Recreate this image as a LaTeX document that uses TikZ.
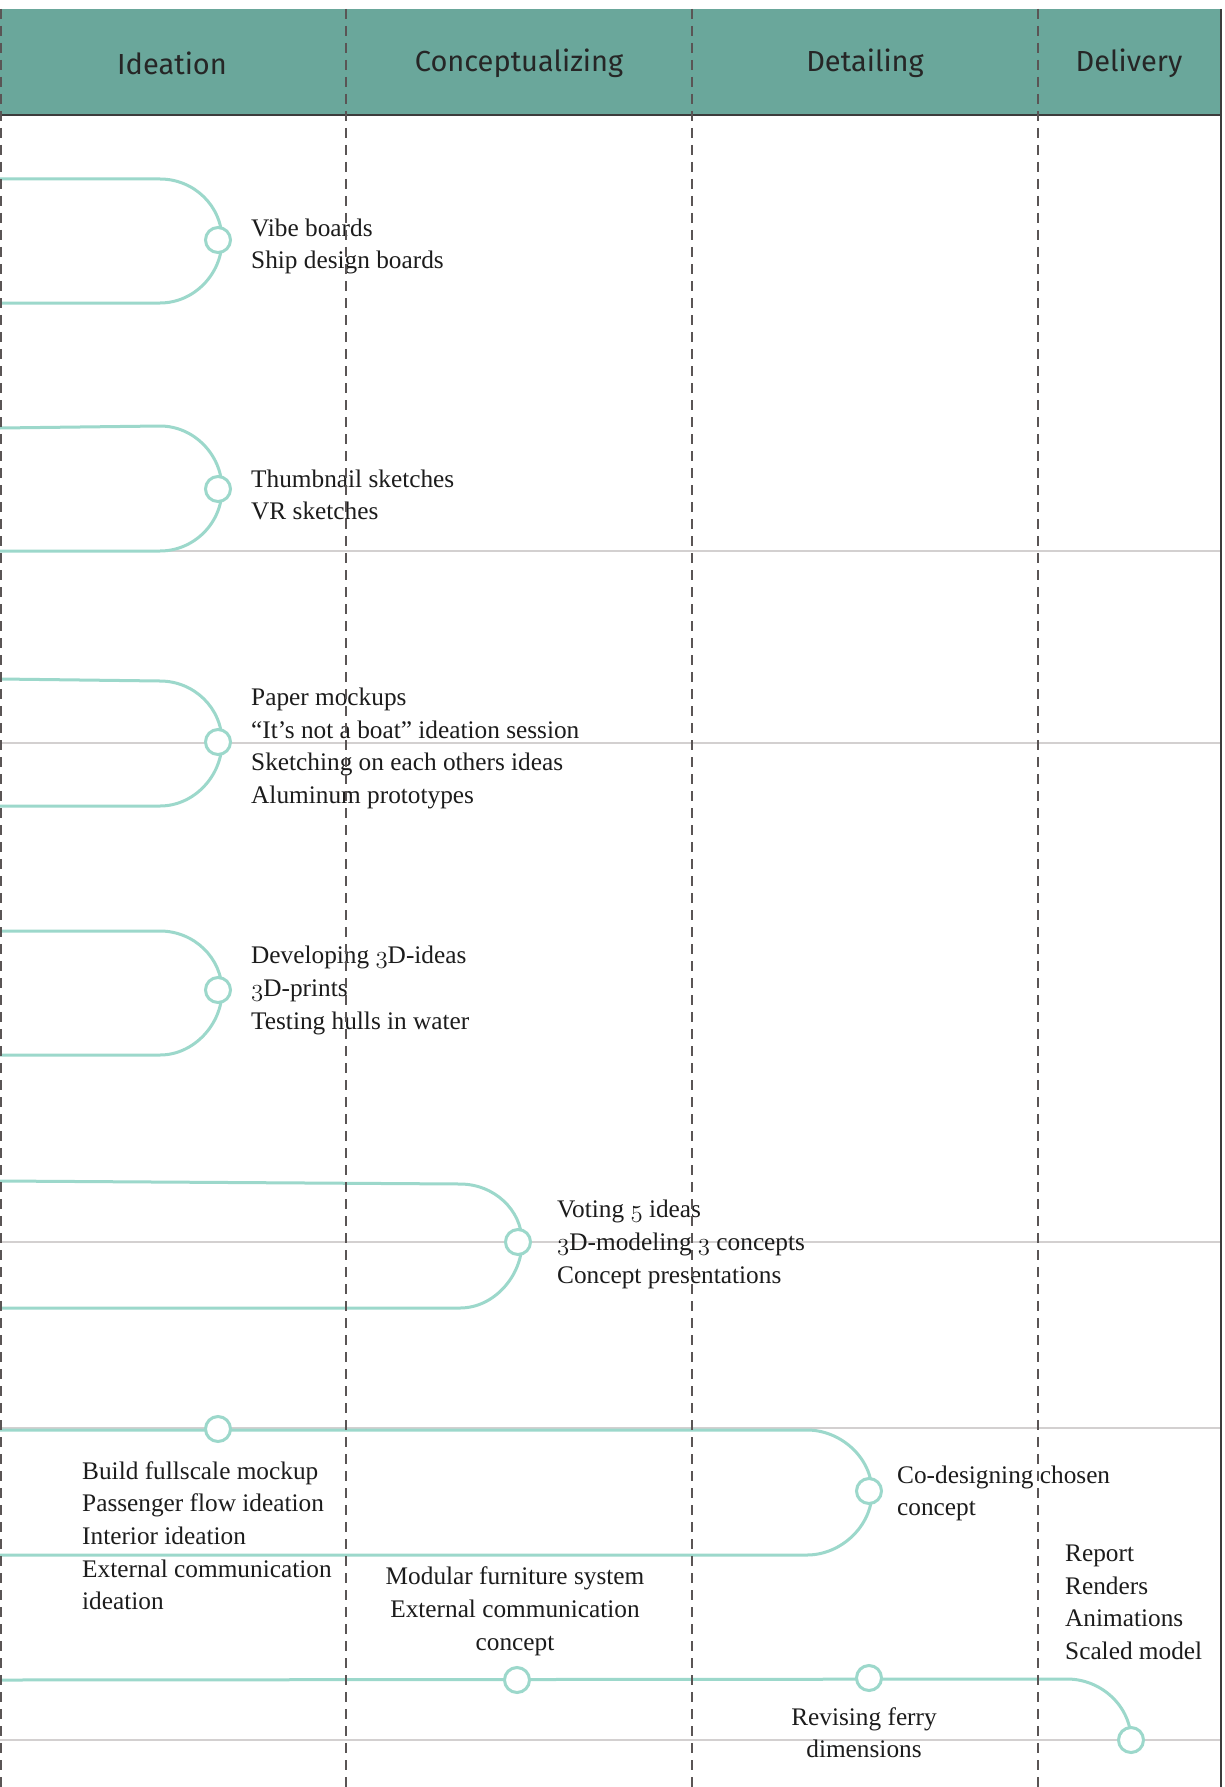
\documentclass[tikz,border=0pt]{standalone}
\usepackage{fontspec}
\setmainfont{Liberation Serif}
\newfontfamily\hfont{Fira Sans}
\newcommand\osn[1]{{\usefont{OML}{cmm}{m}{it}#1}}
\definecolor{hdr}{HTML}{6AA79B}
\definecolor{tl}{HTML}{9CD8CB}
\definecolor{dsh}{HTML}{5A5555}
\definecolor{gl}{HTML}{D3D0D0}
\definecolor{txt}{HTML}{1C1C1C}
\definecolor{hdtxt}{HTML}{262626}
\tikzset{
  flow/.style={draw=tl, line width=3pt},
  dot/.style={circle, draw=tl, line width=3pt, fill=white, minimum size=25pt, inner sep=0pt},
  item/.style={font=\fontsize{25.3}{32.6}\selectfont, align=left, text=txt, inner sep=0pt, anchor=west},
  itemc/.style={item, align=center, anchor=center},
  grayline/.style={draw=gl, line width=2pt},
  divider/.style={draw=dsh, line width=1.8pt, dash pattern=on 10pt off 7pt},
  headlabel/.style={font=\hfont\fontsize{29}{34}\selectfont, text=hdtxt, inner sep=0pt}
}
\begin{document}
\begin{tikzpicture}[x=1pt,y=-1pt]
\useasboundingbox (0,0) rectangle (1225,1787);
\fill[white] (0,0) rectangle (1225,1787);
% gray horizontal lines
\foreach \yy in {551,743,1242,1428,1740} {\draw[grayline] (0,\yy) -- (1221,\yy);}
% header
\fill[hdr] (0,9) rectangle (1221,115);
\draw[draw=hdtxt!90, line width=2.5pt] (0,115) -- (1221,115);
% flow group 1
\draw[flow] (0,179) -- (160,179) .. controls (194,179) and (222,206) .. (222,240)
  .. controls (222,274) and (194,303) .. (160,303) -- (0,303);
% group 2
\draw[flow] (0,428) -- (160,426) .. controls (194,426) and (222,455) .. (222,489)
  .. controls (222,523) and (194,551) .. (160,551) -- (0,551);
% group 3
\draw[flow] (0,679) -- (160,681) .. controls (194,681) and (222,708) .. (222,742)
  .. controls (222,776) and (194,806) .. (160,806) -- (0,806);
% group 4
\draw[flow] (0,931) -- (160,931) .. controls (194,931) and (222,958) .. (222,991)
  .. controls (222,1024) and (194,1055) .. (160,1055) -- (0,1055);
% group 5
\draw[flow] (0,1181) -- (460,1184) .. controls (494,1184) and (522,1210) .. (522,1242)
  .. controls (522,1276) and (494,1308) .. (460,1308) -- (0,1308);
% group 6
\draw[flow] (0,1430) -- (807,1430) .. controls (841,1430) and (872,1458) .. (872,1492)
  .. controls (872,1526) and (841,1555) .. (807,1555) -- (0,1555);
% group 7
\coordinate (s7) at (0,1680);
\draw[flow] (s7) -- (1067,1679) .. controls (1102,1679) and (1131,1707) .. (1131,1740);
% dots
\node[dot] (c1) at (218,240) {};
\node[dot] (c2) at (218,489) {};
\node[dot] (c3) at (218,742) {};
\node[dot] (c4) at (218,990) {};
\node[dot] (c5) at (518,1242) {};
\node[dot] (c6t) at (218,1429) {};
\node[dot] (c6) at (869,1491) {};
\node[dot] (c7a) at (517,1680) {};
\node[dot] (c7b) at (869,1678) {};
\node[dot] (c8) at (1131,1740) {};
% texts
\node[item] (t1) at (251,246) {\strut Vibe boards\\\strut Ship design boards};
\node[item] (t2) at (251,497) {\strut Thumbnail sketches\\\strut VR sketches};
\node[item] (t3) at (251,748) {\strut Paper mockups\\\strut “It’s not a boat” ideation session\\\strut Sketching on each others ideas\\\strut Aluminum prototypes};
\node[item] (t4) at (251,990) {\strut Developing \osn{3}D-ideas\\\strut \osn{3}D-prints\\\strut Testing hulls in water};
\node[item] (t5) at (557,1244) {\strut Voting \osn{5} ideas\\\strut \osn{3}D-modeling \osn{3} concepts\\\strut Concept presentations};
\node[item] (t6) at (897,1493) {\strut Co-designing chosen\\\strut concept};
\node[item] (t7) at (82,1538) {\strut Build fullscale mockup\\\strut Passenger flow ideation\\\strut Interior ideation\\\strut External communication\\\strut ideation};
\node[itemc] (t8) at (515,1611) {\strut Modular furniture system\\\strut External communication\\\strut concept};
\node[item] (t9) at (1065,1604) {\strut Report\\\strut Renders\\\strut Animations\\\strut Scaled model};
\node[itemc] (t10) at (864,1735) {\strut Revising ferry\\\strut dimensions};
% header labels
\node[headlabel] (h1) at (172,63) {Ideation};
\node[headlabel] (h2) at (519,63) {Conceptualizing};
\node[headlabel] (h3) at (865,63) {Detailing};
\node[headlabel] (h4) at (1129,63) {Delivery};
% dashed dividers
\foreach \xx in {1,346,692,1038} {\draw[divider] (\xx,9) -- (\xx,1787);}
% right border
\draw[draw=hdtxt!90, line width=2.5pt] (1221,9) -- (1221,1787);
\end{tikzpicture}
\end{document}
